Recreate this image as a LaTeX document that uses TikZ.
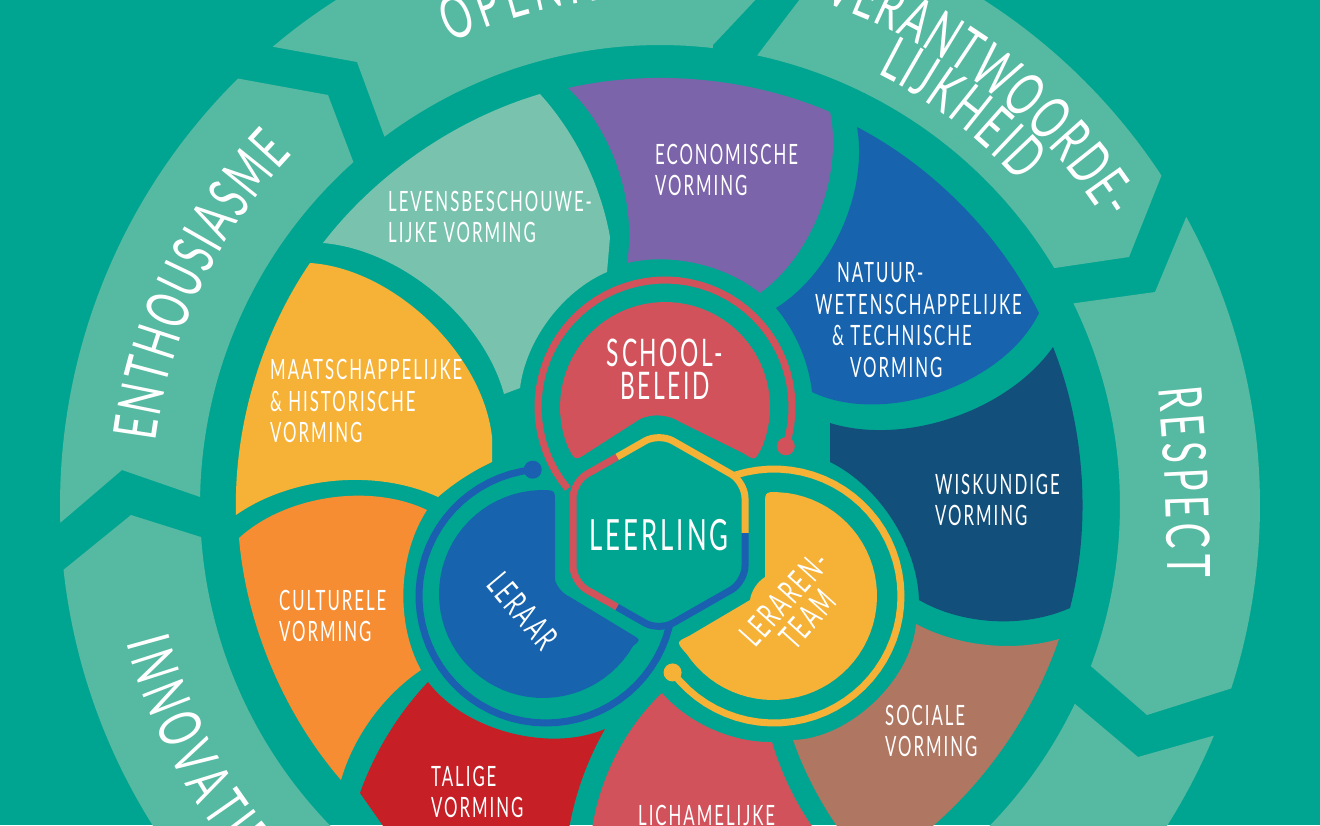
\documentclass[tikz,border=0pt]{standalone}
\usepackage{fontspec}
\usetikzlibrary{decorations.text}
\newfontfamily\thinfont{Lato}[FakeStretch=.64]
\newfontfamily\labelfont{Lato}[FakeStretch=.6,LetterSpace=7]
\definecolor{bgteal}{HTML}{00A591}
\definecolor{ringgreen}{HTML}{56B9A1}
\definecolor{levgreen}{HTML}{79C3AE}
\definecolor{ecopurple}{HTML}{7B64A9}
\definecolor{natblue}{HTML}{1763AE}
\definecolor{wisnavy}{HTML}{134F7B}
\definecolor{maayellow}{HTML}{F6B137}
\definecolor{culorange}{HTML}{F68D32}
\definecolor{talred}{HTML}{C71F26}
\definecolor{lichred}{HTML}{D2525B}
\definecolor{socbrown}{HTML}{AF7662}
\definecolor{lineblue}{HTML}{1B5FB0}
\tikzset{
	arcl/.style={bend left=#1,looseness=.85},
	arcr/.style={bend right=#1,looseness=.85},
	vlabel/.style={text=white,anchor=west,align=left,font=\labelfont\fontsize{28}{31.5}\selectfont,inner sep=0pt},
	blobtext/.style={text=white,align=center,font=\labelfont\fontsize{38}{33}\selectfont,inner sep=0pt},
	hexline/.style={line width=7,rounded corners=16},
	ringline/.style={line width=7},
	ringtext/.style={decorate,decoration={text along path,text color=white,text align={fit to path},text={|\thinfont\fontsize{60}{60}\selectfont|#1}}}
}
\begin{document}
\begin{tikzpicture}[x=1pt,y=-1pt,samples=50]
	\useasboundingbox (0,0) rectangle (1320,825);
	\clip (0,0) rectangle (1320,825);
	\fill[bgteal] (0,0) rectangle (1320,825);
	% outer ring
	\begin{scope}[shift={(660,505)}]
		\fill[ringgreen] plot[domain=178.3:225.3] (\x:600) -- (-332,-410) -- plot[domain=228.2:181] (\x:460) -- (-538,-35) -- cycle;
		\fill[ringgreen] plot[domain=229.8:270] (\x:600) -- (100,-510) -- (53,-460) -- plot[domain=276.6:233.2] (\x:460) -- (-303,-443) -- cycle;
		\fill[ringgreen] plot[domain=295:326.7] (\x:600) -- (469,-248) -- plot[domain=329:282.2] (\x:460) -- (143,-510) -- cycle;
		\fill[ringgreen] plot[domain=331.3:377.8] (\x:600) -- (487,210) -- plot[domain=380.5:334] (\x:460) -- (495,-213) -- cycle;
		\fill[ringgreen] plot[domain=22.6:45] (\x:600) -- plot[domain=45:25.6] (\x:460) -- (478,252) -- cycle;
		\fill[ringgreen] plot[domain=130:173.8] (\x:600) -- (-529,10) -- plot[domain=176:130] (\x:460) -- cycle;
		\path[ringtext=ENTHOUSIASME] plot[domain=187.2:223.6] (\x:508);
		\path[ringtext=OPENHEID] plot[domain=245.6:272] (\x:508);
		\path[ringtext=VERANTWOORDE-] plot[domain=288:327.5] (\x:528);
		\path[ringtext=LIJKHEID] plot[domain=296.7:318.1] (\x:483);
		\path[ringtext=INNOVATIE] plot[domain=165.5:139.5] (\x:551);
	\end{scope}
	\path[ringtext=RESPECT] (1158,388) to[arcl=3] (1167,577);
	% vormingen
	\fill[levgreen] (323,243) to[arcl=18] (540,94) to[arcl=16] (610,237) -- (607,272) to[arcr=30] (520,388) -- (504,394) to[arcr=35] cycle;
	\fill[ecopurple] (568,88) to[arcl=18] (830,112) to[arcl=33] (760,293) to[arcr=26] (627,263) to[arcr=28] cycle;
	\fill[natblue] (857,127) to[arcl=18] (1039,313) to[arcl=45] (812,392) to[arcr=17] (776,308) to[arcr=34] cycle;
	\fill[wisnavy] (1053,347) to[arcl=18] (1070,608) to[arcl=27] (919,600) to[arcr=31] (830,462) -- (830,423) to[arcr=36] cycle;
	\fill[maayellow] (236,515) to[arcl=18] (310,263) to[arcl=40] (492,437) -- (492,462) to[arcr=8] (438,497) to[arcr=30] cycle;
	\fill[culorange] (239,538) to[arcr=-34] (427,510) to[arcr=31] (421,670) to[arcr=20] (341,780) to[arcl=18] cycle;
	\fill[talred] (428,682) to[arcr=38] (605,729) to[arcr=12] (566,850) -- (400,850) -- (360,793) to[arcl=12] cycle;
	\fill[lichred] (662,693) to[arcr=25] (772,742) to[arcr=12] (830,850) -- (590,850) to[arcl=22] cycle;
	\fill[socbrown] (916,624) to[arcr=22] (1059,639) to[arcl=15] (934,825) -- (905,850) -- (855,850) to[arcl=10] (793,740) to[arcr=42] cycle;
	% beleid, leraar, team
	\begin{scope}[shift={(665,407)}]
		\fill[lichred] plot[domain=158:382] (\x:105) .. controls (90,54) .. (78,46) -- (15,15) to[arcr=30] (-25,12) -- (-78,46) .. controls (-90,54) .. (158:105) -- cycle;
		\draw[ringline,lichred] plot[domain=140:378] (\x:127);
		\fill[lichred] (378:127) circle (9);
	\end{scope}
	\begin{scope}[shift={(543,594)}]
		\fill[natblue] plot[domain=30:268] (\x:104) .. controls (12,-104) .. (12,-92) -- (12,-14) to[arcr=25] (27,3) -- (88,40) .. controls (98,46) .. (30:104) -- cycle;
	\end{scope}
	\begin{scope}[shift={(546,596)}]
		\draw[ringline,lineblue] plot[domain=13.8:264] (\x:127);
		\fill[lineblue] (264:127) circle (9);
	\end{scope}
	\begin{scope}[shift={(773,596)}]
		\fill[maayellow] plot[domain=-82:146] (\x:104) .. controls (-97,46) .. (-84,40) -- (-23,4) to[arcr=-25] (-8,-19) -- (-8,-92) .. controls (-8,-105) .. (-82:104) -- cycle;
	\end{scope}
	\begin{scope}[shift={(774,596)}]
		\draw[ringline,maayellow] plot[domain=-108:143] (\x:127);
		\fill[maayellow] (143:127) circle (9);
	\end{scope}
	% leerling
	\draw[hexline,maayellow] (617,457) -- (659,433) -- (745,482) -- (745,533);
	\draw[hexline,lineblue] (745,533) -- (745,582) -- (659,631) -- (617,607);
	\draw[hexline,lichred] (617,607) -- (573,582) -- (573,482) -- (617,457);
	% labels
	\foreach \nm/\x/\y/\txt in {
		lev/388/217/{LEVENSBESCHOUWE-\\LIJKE VORMING},
		eco/655/170/{ECONOMISCHE\\VORMING},
		nat/815/320/{\hspace*{22pt}NATUUR-\\WETENSCHAPPELIJKE\\\hspace*{17pt}\& TECHNISCHE\\\hspace*{35pt}VORMING},
		wis/935/500/{WISKUNDIGE\\VORMING},
		maa/270/401/{MAATSCHAPPELIJKE\\\& HISTORISCHE\\VORMING},
		cul/279/616/{CULTURELE\\VORMING},
		tal/431/792/{TALIGE\\VORMING},
		soc/885/731/{SOCIALE\\VORMING},
		lich/638/815/{LICHAMELIJKE}}
		\node[vlabel] (\nm) at (\x,\y) {\txt};
	\node[blobtext] (school) at (665,369) {SCHOOL-\\BELEID};
	\node[blobtext,font=\labelfont\fontsize{43}{43}\selectfont] (leerling) at (659,535) {LEERLING};
	\node[blobtext,font=\labelfont\fontsize{34}{32}\selectfont,rotate=-50] (leraar) at (523,611) {LERAAR};
	\node[blobtext,font=\labelfont\fontsize{34}{31}\selectfont,rotate=48] (team) at (796,609) {LERAREN-\\TEAM};
\end{tikzpicture}
\end{document}
